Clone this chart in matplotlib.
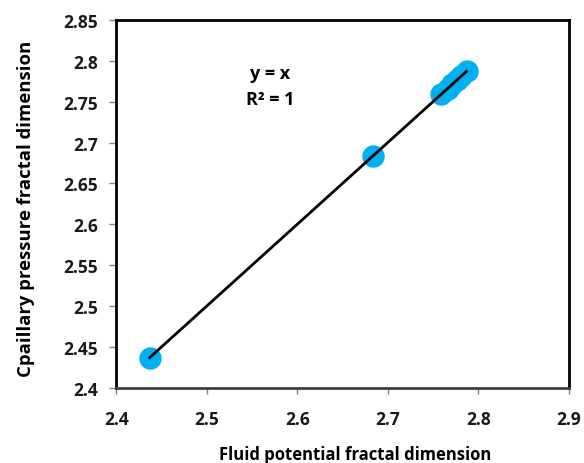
import matplotlib.pyplot as plt
import numpy as np

# fluid potential vs capillary pressure fractal dimension
fluid_d = [2.437, 2.684, 2.759, 2.766, 2.771, 2.776, 2.781, 2.787]
cap_d = [2.437, 2.684, 2.759, 2.766, 2.771, 2.776, 2.781, 2.787]

x_ticks = [2.4, 2.5, 2.6, 2.7, 2.8, 2.9]
y_ticks = [2.4, 2.45, 2.5, 2.55, 2.6, 2.65, 2.7, 2.75, 2.8, 2.85]

plt.rcParams['font.family'] = ['Open Sans', 'DejaVu Sans']

fig = plt.figure(figsize=(5.84, 4.64), dpi=100)
ax = fig.add_axes([0.199, 0.162, 0.775, 0.793])

ax.scatter(fluid_d, cap_d, s=260, color='#00B0F0', zorder=2, linewidths=0)
# trend line y = x
xl = np.array([min(fluid_d), max(fluid_d)])
ax.plot(xl, xl, color='black', lw=2, zorder=3)

ax.set_xlim(2.4, 2.9)
ax.set_ylim(2.4, 2.85)
ax.set_xticks(x_ticks)
ax.set_xticklabels([f'{v:g}' for v in x_ticks])
ax.set_yticks(y_ticks)
ax.set_yticklabels([f'{v:g}' for v in y_ticks])
ax.tick_params(axis='y', direction='out', length=5, width=1, color='#808080',
               labelsize=12.5, pad=8)
ax.tick_params(axis='x', direction='out', length=4, width=1, color='#808080',
               labelsize=12.5, pad=12)
for lab in ax.get_xticklabels() + ax.get_yticklabels():
    lab.set_fontweight('bold')
    lab.set_color('#1a1a1a')

for s in ['top', 'right', 'left']:
    ax.spines[s].set_linewidth(2)
    ax.spines[s].set_color('black')
ax.spines['bottom'].set_linewidth(2)
ax.spines['bottom'].set_color('#404040')

ax.set_xlabel('Fluid potential fractal dimension', fontsize=12, fontweight='bold')
ax.xaxis.set_label_coords(0.528, -0.155)
ax.set_ylabel('Cpaillary pressure fractal dimension', fontsize=13.3, fontweight='bold')
ax.yaxis.set_label_coords(-0.18, 0.49)

ax.text(0.34, 0.855, 'y = x', transform=ax.transAxes, ha='center', va='center',
        fontsize=13, fontweight='bold')
ax.text(0.34, 0.785, 'R² = 1', transform=ax.transAxes, ha='center', va='center',
        fontsize=13, fontweight='bold')

fig.savefig('out.png', dpi=100)
